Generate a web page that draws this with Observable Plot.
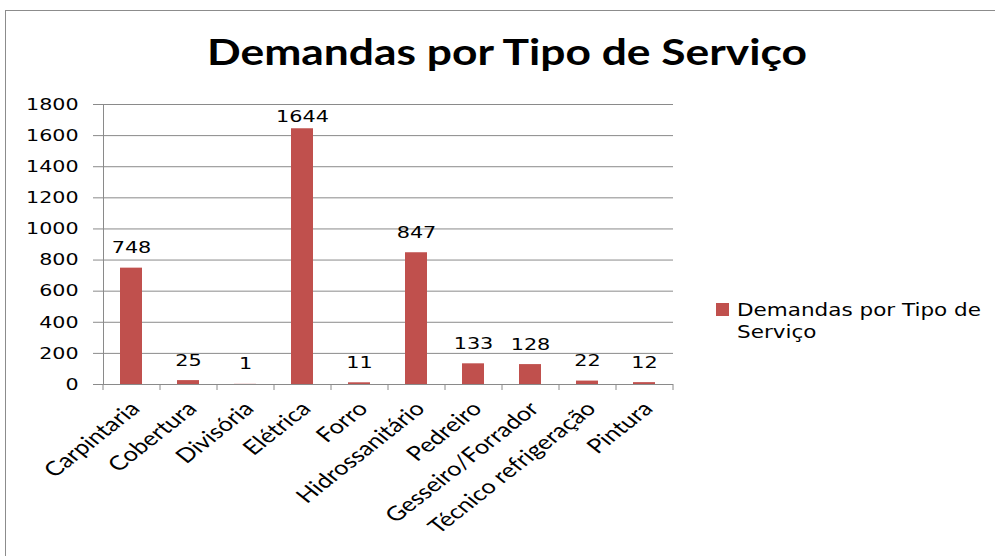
<!DOCTYPE html>
<html><head><meta charset="utf-8">
<script src="https://cdn.jsdelivr.net/npm/d3@7"></script>
<script src="https://cdn.jsdelivr.net/npm/@observablehq/plot@0.6"></script>
<style>
html,body{margin:0;padding:0;background:#fff;}
#wrap{position:relative;width:995px;height:556px;overflow:hidden;font-family:"DejaVu Sans",sans-serif;}
#frame{position:absolute;left:5px;top:10px;width:1000px;height:560px;border:1px solid #8c8c8c;box-sizing:border-box;}
#title{position:absolute;left:207px;top:33px;white-space:nowrap;font-family:Lato,sans-serif;font-weight:700;font-size:36px;line-height:1;color:#000;transform-origin:left top;}
#legend{position:absolute;left:716px;top:299px;font-size:17px;color:#000;line-height:22px;}
#legend .sw{position:absolute;left:0;top:4px;width:13px;height:13px;background:#C0504D;}
#legend .tx{position:absolute;left:21px;top:0;white-space:nowrap;transform-origin:left top;}
#legend .tx span{display:inline-block;}
#chart{position:absolute;left:0;top:0;}
</style></head>
<body><div id="wrap"><div id="frame"></div><div id="chart"></div>
<div id="title">Demandas por Tipo de Serviço</div>
<div id="legend"><div class="sw"></div><div class="tx"><span id="l1">Demandas por Tipo de</span><br>Serviço</div></div>
</div>
<script>
const categories = ["Carpintaria","Cobertura","Divisória","Elétrica","Forro","Hidrossanitário","Pedreiro","Gesseiro/Forrador","Técnico refrigeração","Pintura"];
const values = [748,25,1,1644,11,847,133,128,22,12];
const yTicks = [0,200,400,600,800,1000,1200,1400,1600,1800];
const data = categories.map((c,i)=>({cat:c, v:values[i]}));
const bw = (673-103)/categories.length;
const chart = Plot.plot({
  width:995, height:556,
  marginLeft:103, marginRight:322, marginTop:104, marginBottom:172,
  style:{fontFamily:"DejaVu Sans, sans-serif", fontSize:"16.5px", color:"#000", background:"transparent"},
  x:{domain:categories, paddingInner:0.61, paddingOuter:0.305, label:null},
  y:{domain:[0,1800], label:null},
  marks:[
    Plot.ruleY(yTicks,{stroke:"#8a8a8a", strokeWidth:1}),
    Plot.axisY({ticks:yTicks, tickSize:10, tickPadding:15, stroke:"#8a8a8a", label:null, tickFormat:d=>String(d), fill:"#000", fontSize:16.5}),
    Plot.frame({anchor:"left", stroke:"#8a8a8a"}),
    Plot.barY(data,{x:"cat", y:"v", fill:"#C0504D"}),
    // Excel keeps the tallest label inside the plot area, so it sits closer to its bar
    Plot.text(data,{filter:d=>d.v < 1600, x:"cat", y:"v", text:d=>String(d.v), dy:-15, lineAnchor:"bottom", fontSize:16, fill:"#000"}),
    Plot.text(data,{filter:d=>d.v >= 1600, x:"cat", y:"v", text:d=>String(d.v), dy:-7, lineAnchor:"bottom", fontSize:16, fill:"#000"}),
    Plot.ruleX(categories,{x:d=>d, y1:0, y2:0, dx:-bw/2, stroke:"#8a8a8a", insetBottom:-6}),
    Plot.ruleX([categories[categories.length-1]],{x:d=>d, y1:0, y2:0, dx:bw/2, stroke:"#8a8a8a", insetBottom:-6}),
    Plot.axisX({tickRotate:-45, tickSize:0, tickPadding:21, dx:4, label:null, fontSize:20, fontFamily:"Lato, sans-serif", fill:"#000"})
  ]
});
document.getElementById("chart").appendChild(chart);

function stretch(sel, sx, before){
  chart.querySelectorAll(sel).forEach(t=>{
    let tr = t.getAttribute("transform") || "";
    if (before && tr.includes("rotate(")) tr = tr.replace("rotate(", `scale(${sx},1) rotate(`);
    else tr = tr + ` scale(${sx},1)`;
    t.setAttribute("transform", tr);
  });
}
stretch('g[aria-label="text"] text', 1.3, false);
stretch('g[aria-label="y-axis tick label"] text', 1.25, false);
stretch('g[aria-label="x-axis tick label"] text', 1.27, true);

const title = document.getElementById("title");
title.style.transform = `scaleX(${600/title.getBoundingClientRect().width})`;
const l1 = document.getElementById("l1");
document.querySelector("#legend .tx").style.transform = `scaleX(${244/l1.getBoundingClientRect().width})`;
</script></body></html>
